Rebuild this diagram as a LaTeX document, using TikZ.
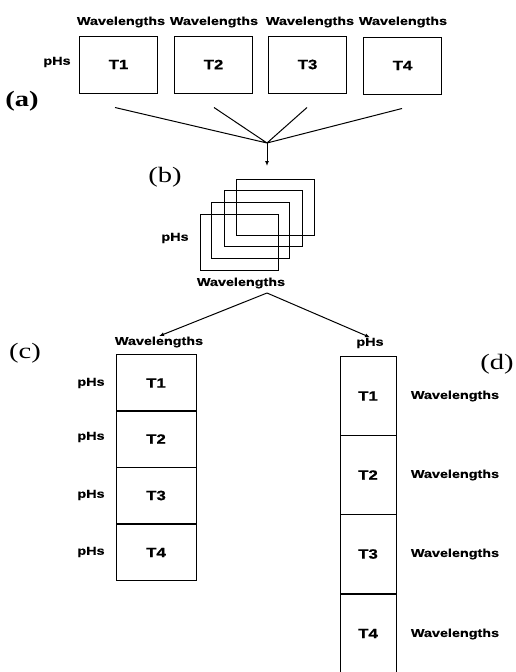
\documentclass[tikz,border=0pt]{standalone}
\usepackage{fontspec}
\newfontfamily\labfont[FakeStretch=1.25,BoldFeatures={FakeBold=0.6}]{Liberation Sans}
\newfontfamily\tagfont[FakeStretch=1.3]{Liberation Serif}
\usetikzlibrary{arrows.meta,calc}
\begin{document}
\begin{tikzpicture}[x=1pt,y=-1pt,line width=1pt,
  lab/.style={font=\labfont\bfseries\fontsize{11.5}{14}\selectfont,inner sep=0pt},
  tfont/.style={font=\labfont\bfseries\fontsize{13.5}{15}\selectfont},
  tbox/.style={draw,lab,tfont,minimum width=78pt,minimum height=57pt},
  cbox/.style={draw,lab,tfont,minimum width=80pt,minimum height=56.5pt},
  dbox/.style={draw,lab,tfont,minimum width=56pt,minimum height=79pt},
  sbox/.style={draw,minimum width=78pt,minimum height=56pt,inner sep=0pt},
  tag/.style={font=\tagfont\fontsize{22}{24}\selectfont,inner sep=0pt},
  arr/.style={-{Latex[length=5pt,width=4pt]}}]
\useasboundingbox (0,0) rectangle (515,672);
% (a)
\node[tag,font=\tagfont\bfseries\fontsize{22}{24}\selectfont] (la) at (22,101) {(a)};
\node[tbox] (T1) at (118.5,64.5) {T1};
\node[tbox] (T2) at (213.5,64.5) {T2};
\node[tbox] (T3) at (307.5,64.5) {T3};
\node[tbox] (T4) at (402.5,65.5) {T4};
\node[lab] (w1) at (121,22) {Wavelengths};
\node[lab] (w2) at (214,22) {Wavelengths};
\node[lab] (w3) at (310,22) {Wavelengths};
\node[lab] (w4) at (403,22) {Wavelengths};
\node[lab] (pa) at (57,62) {pHs};
\coordinate (m1) at ($(T1.south)+(-3.5,14)$);
\coordinate (m2) at ($(T2.south)+(0.5,14)$);
\coordinate (m3) at ($(T3.south)+(-0.5,14)$);
\coordinate (m4) at ($(T4.south)+(-0.5,14)$);
\coordinate (conv) at (267,143);
\coordinate (arrb) at (267,166);
\draw (m1) -- (conv) (m2) -- (conv) (m3) -- (conv) (m4) -- (conv);
\draw[arr] (conv) -- (arrb);
% (b)
\node[tag] (lb) at (165,177) {(b)};
\node[sbox] (s4) at (275.5,207.5) {};
\node[sbox] (s3) at (263.5,218.5) {};
\node[sbox] (s2) at (250.5,230) {};
\node[sbox] (s1) at (239,242) {};
\node[lab] (pb) at (175,238) {pHs};
\node[lab] (wb) at (241,283) {Wavelengths};
\coordinate (br) at (267,293);
% (c)
\node[tag] (lc) at (25,353) {(c)};
\node[lab] (wc) at (159,342) {Wavelengths};
\node[cbox] (c1) at (156,383) {T1};
\node[cbox] (c2) at (156,439) {T2};
\node[cbox] (c3) at (156,495.5) {T3};
\node[cbox] (c4) at (156,552.5) {T4};
\node[lab] (pc1) at (91,383) {pHs};
\node[lab] (pc2) at (91,437) {pHs};
\node[lab] (pc3) at (91,495) {pHs};
\node[lab] (pc4) at (91,552) {pHs};
% (d)
\node[tag] (ld) at (497,364) {(d)};
\node[lab] (pd) at (370,343) {pHs};
\node[dbox] (d1) at (368,396) {T1};
\node[dbox] (d2) at (368,475) {T2};
\node[dbox] (d3) at (368,554) {T3};
\node[dbox] (d4) at (368,633.5) {T4};
\node[lab] (wd1) at (455,396) {Wavelengths};
\node[lab] (wd2) at (455,475) {Wavelengths};
\node[lab] (wd3) at (455,554) {Wavelengths};
\node[lab] (wd4) at (455,634) {Wavelengths};
% branches
\draw[arr] (br) -- (wc.north);
\draw[arr] (br) -- (pd.north);
\end{tikzpicture}
\end{document}
